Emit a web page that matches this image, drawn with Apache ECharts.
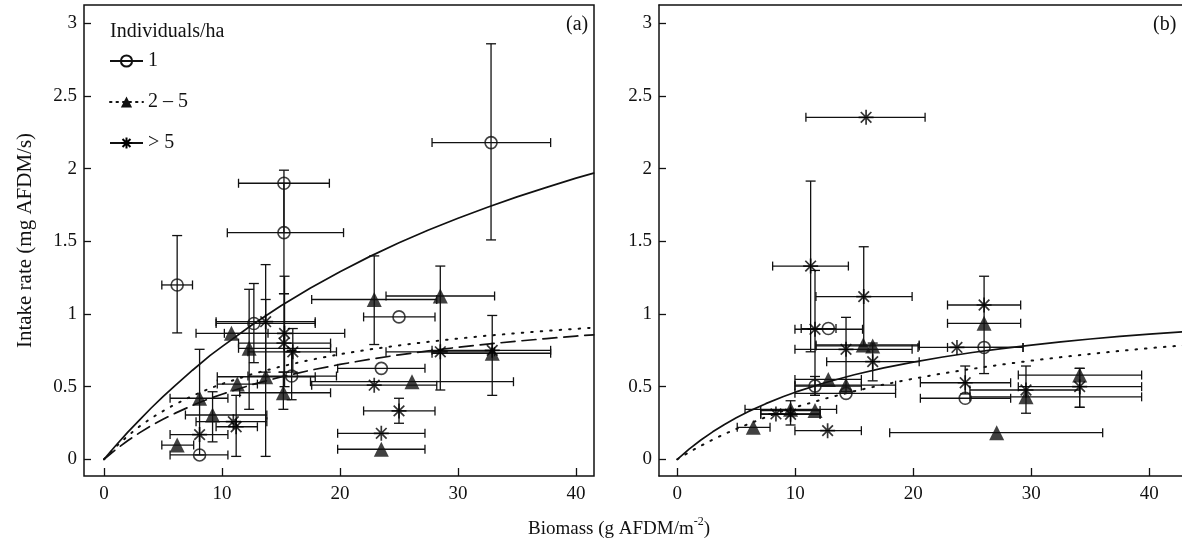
<!DOCTYPE html>
<html><head><meta charset="utf-8">
<script src="https://cdn.jsdelivr.net/npm/echarts@6/dist/echarts.min.js"></script>
<style>html,body{margin:0;padding:0;background:#fff}#c{width:1182px;height:543px}</style>
</head><body><div id="c"></div>
<script>
// ---- data: [x, y, xLow, xHigh, yLow, yHigh] ----
const circlesA = [
  [6.2, 1.20, 4.9, 7.5, 0.87, 1.54],
  [8.1, 0.03, 5.6, 10.5, null, null],
  [15.25, 1.90, 11.4, 19.1, 1.56, 1.99],
  [15.25, 1.56, 10.45, 20.3, 1.14, 1.90],
  [12.7, 0.935, 9.5, 17.9, 0.665, 1.21],
  [15.9, 0.573, 12.2, 19.7, 0.41, 0.75],
  [25.0, 0.98, 22.0, 28.05, null, null],
  [23.5, 0.626, 19.8, 27.2, null, null],
  [32.8, 2.18, 27.8, 37.85, 1.51, 2.86]
];
const trianglesA = [
  [6.2, 0.098, 4.9, 7.6, null, null],
  [8.1, 0.42, 5.6, 10.5, 0.03, 0.757],
  [9.2, 0.305, 6.9, 13.8, 0.12, 0.465],
  [11.3, 0.518, 9.6, 13.0, null, null],
  [10.8, 0.867, 7.8, 13.9, null, null],
  [12.3, 0.764, 11.4, 19.2, 0.344, 1.17],
  [13.7, 0.568, 9.6, 17.9, 0.02, 1.10],
  [15.2, 0.458, 11.5, 19.2, 0.344, 0.60],
  [22.9, 1.10, 17.6, 28.2, 0.79, 1.40],
  [28.5, 1.124, 23.9, 33.1, 0.477, 1.33],
  [26.1, 0.534, 17.5, 34.7, null, null],
  [23.5, 0.069, 19.8, 27.2, null, null],
  [32.9, 0.73, 27.8, 37.85, 0.44, 0.99]
];
const asterisksA = [
  [8.1, 0.17, 5.6, 10.5, null, null],
  [10.96, 0.259, 7.8, 13.8, null, null],
  [11.2, 0.224, 9.5, 13.0, 0.02, 0.44],
  [13.7, 0.947, 9.5, 17.9, 0.6, 1.34],
  [15.3, 0.867, 10.2, 20.4, 0.5, 1.26],
  [15.25, 0.80, 11.4, 19.2, 0.6, 1.14],
  [16.0, 0.74, 12.2, 19.7, 0.6, 0.9],
  [22.9, 0.51, 17.6, 28.2, null, null],
  [25.0, 0.333, 22.0, 28.05, 0.248, 0.42],
  [23.5, 0.179, 19.8, 27.2, null, null],
  [28.5, 0.74, 23.9, 33.1, null, null],
  [32.9, 0.75, 27.8, 37.85, null, null]
];
const circlesB = [
  [12.8, 0.90, 10.5, 13.45, null, null],
  [11.67, 0.504, 9.97, 15.6, 0.44, 0.57],
  [14.3, 0.454, 9.97, 18.5, null, null],
  [26.0, 0.77, 22.9, 29.3, 0.59, 1.26],
  [24.4, 0.42, 20.6, 28.25, null, null]
];
const trianglesB = [
  [15.76, 0.787, 11.75, 20.5, null, null],
  [16.56, 0.78, 11.75, 20.5, null, null],
  [12.8, 0.55, 9.97, 15.6, null, null],
  [14.3, 0.51, 9.97, 18.5, null, null],
  [9.6, 0.344, 5.74, 13.5, 0.236, 0.403],
  [11.67, 0.335, 7.07, 12.1, null, null],
  [6.44, 0.22, 5.08, 7.86, null, null],
  [27.07, 0.183, 18.0, 36.05, null, null],
  [26.0, 0.936, 22.9, 29.1, null, null],
  [29.55, 0.43, 24.8, 39.35, 0.317, 0.642],
  [34.1, 0.58, 28.9, 39.35, 0.358, 0.626]
];
const asterisksB = [
  [16.0, 2.354, 10.9, 21.0, null, null],
  [11.3, 1.33, 8.08, 14.5, 0.74, 1.915],
  [15.8, 1.12, 11.75, 19.9, 0.78, 1.463],
  [11.67, 0.895, 9.97, 15.7, 0.44, 1.30],
  [14.3, 0.757, 9.97, 19.9, 0.465, 0.977],
  [16.56, 0.672, 12.66, 20.5, 0.54, 0.80],
  [23.7, 0.77, 20.4, 29.3, null, null],
  [26.0, 1.062, 22.9, 29.1, null, null],
  [24.4, 0.527, 20.6, 28.25, 0.45, 0.642],
  [29.55, 0.477, 24.8, 34.1, null, null],
  [34.1, 0.50, 28.9, 39.35, 0.358, 0.626],
  [8.36, 0.312, 7.07, 12.1, null, null],
  [9.6, 0.31, 7.07, 12.1, null, null],
  [12.74, 0.197, 9.97, 15.6, null, null]
];
// fitted curves
const curveXA = [0, 1, 2, 3, 4, 5, 6, 7.5, 9, 10, 12.5, 15, 17.5, 20, 22.5, 25, 27.5, 30, 32.5, 35, 37.5, 40, 41.5];
const solidA  = [0, 0.095, 0.185, 0.270, 0.353, 0.431, 0.506, 0.613, 0.715, 0.776, 0.923, 1.057, 1.179, 1.291, 1.395, 1.49, 1.578, 1.659, 1.735, 1.806, 1.872, 1.935, 1.97];
const dottedA = [0, 0.086, 0.160, 0.226, 0.283, 0.332, 0.377, 0.437, 0.489, 0.519, 0.585, 0.639, 0.684, 0.723, 0.756, 0.784, 0.809, 0.831, 0.851, 0.868, 0.884, 0.898, 0.906];
const dashedA = [0, 0.067, 0.128, 0.182, 0.232, 0.275, 0.316, 0.371, 0.420, 0.448, 0.513, 0.567, 0.613, 0.653, 0.688, 0.719, 0.746, 0.771, 0.793, 0.813, 0.831, 0.848, 0.857];
const curveXB = [0, 1, 2, 3, 4, 5, 6, 7.5, 9, 10, 12.5, 15, 17.5, 20, 22.5, 25, 27.5, 30, 32.5, 35, 37.5, 40, 42.9];
const solidB  = [0, 0.070, 0.133, 0.189, 0.240, 0.286, 0.328, 0.383, 0.432, 0.462, 0.527, 0.582, 0.629, 0.669, 0.704, 0.735, 0.762, 0.786, 0.808, 0.828, 0.846, 0.862, 0.878];
const dottedB = [0, 0.049, 0.093, 0.135, 0.174, 0.209, 0.242, 0.290, 0.333, 0.358, 0.417, 0.469, 0.514, 0.555, 0.591, 0.623, 0.652, 0.679, 0.703, 0.725, 0.746, 0.765, 0.784];
const xTicks = [0, 10, 20, 30, 40];
const yTicks = [0, 0.5, 1, 1.5, 2, 2.5, 3];
const legendNames = ['1', '2 \u2013 5', '> 5'];

const FONT = 'Liberation Serif';
const INK = '#111';
const ASTER = 'path://M0,-10L0,10M-10,0L10,0M-7.07,-7.07L7.07,7.07M-7.07,7.07L7.07,-7.07';

const chart = echarts.init(document.getElementById('c'), null, {renderer: 'canvas'});

function zip(xs, ys) { return xs.map((x, i) => [x, ys[i]]); }
function pts(arr) { return arr.map(d => [d[0], d[1]]); }

function errSeries(idx, rows) {
  return {
    type: 'custom', xAxisIndex: idx, yAxisIndex: idx, z: 2, clip: true,
    silent: true,
    data: rows.map(r => r.map(v => v === null ? '-' : v)),
    encode: {x: 0, y: 1},
    renderItem: function (params, api) {
      const x = api.value(0), y = api.value(1);
      const xl = api.value(2), xh = api.value(3), yl = api.value(4), yh = api.value(5);
      const style = {stroke: INK, lineWidth: 1.3};
      const ch = [];
      const line = (a, b) => ch.push({type: 'line', shape: {x1: a[0], y1: a[1], x2: b[0], y2: b[1]}, style: style});
      if (!isNaN(xl) && !isNaN(xh)) {
        const p1 = api.coord([xl, y]), p2 = api.coord([xh, y]);
        line(p1, p2);
        line([p1[0], p1[1] - 4.5], [p1[0], p1[1] + 4.5]);
        line([p2[0], p2[1] - 4.5], [p2[0], p2[1] + 4.5]);
      }
      if (!isNaN(yl) && !isNaN(yh)) {
        const q1 = api.coord([x, yl]), q2 = api.coord([x, yh]);
        line(q1, q2);
        line([q1[0] - 5, q1[1]], [q1[0] + 5, q1[1]]);
        line([q2[0] - 5, q2[1]], [q2[0] + 5, q2[1]]);
      }
      return {type: 'group', children: ch};
    }
  };
}

const circleStyle = {color: 'rgba(0,0,0,0)', borderColor: INK, borderWidth: 1.6};
const triStyle = {color: INK};
const asterStyle = {color: 'rgba(0,0,0,0)', borderColor: '#000', borderWidth: 1.7};

function markers(idx, name, arr, symbol, size, style) {
  return {type: 'scatter', name: name, xAxisIndex: idx, yAxisIndex: idx, z: 4,
    symbol: symbol, symbolSize: size, itemStyle: style, data: pts(arr), silent: true};
}
function curve(idx, name, xs, ys, lt, w) {
  return {type: 'line', name: name, xAxisIndex: idx, yAxisIndex: idx, z: 3, data: zip(xs, ys),
    showSymbol: false, symbol: 'none', smooth: false, silent: true,
    lineStyle: {color: INK, width: w, type: lt, cap: 'round', join: 'round'}};
}

const lineStyleAxis = {color: INK, width: 1.5};
function xAxis(gi, min, max, showLine) {
  return {type: 'value', gridIndex: gi, min: min, max: max, position: 'bottom',
    axisLine: {show: showLine, onZero: false, lineStyle: lineStyleAxis}, splitLine: {show: false},
    axisTick: {show: true, inside: true, length: 8, customValues: xTicks, lineStyle: {color: INK, width: 1.3}},
    axisLabel: {customValues: xTicks, color: INK, fontFamily: FONT, fontSize: 19, margin: 9}};
}
function yAxis(gi, name, showLine) {
  return {type: 'value', gridIndex: gi, min: -0.115, max: 3.127, position: 'left',
    name: name, nameLocation: 'middle', nameGap: 48,
    nameTextStyle: {color: INK, fontFamily: FONT, fontSize: 21},
    axisLine: {show: showLine, onZero: false, lineStyle: lineStyleAxis}, splitLine: {show: false},
    axisTick: {show: true, inside: true, length: 7, customValues: yTicks, lineStyle: {color: INK, width: 1.3}},
    axisLabel: {customValues: yTicks, color: INK, fontFamily: FONT, fontSize: 19, margin: 7}};
}

const BW = 523; // panel (b) width: runs to the right edge of the picture
const option = {
  backgroundColor: '#fff',
  animation: false,
  grid: [
    {left: 84, top: 5, width: 510, height: 471, show: true, borderColor: INK, borderWidth: 1.5, backgroundColor: 'transparent'},
    {left: 659, top: 5, width: BW, height: 471, show: false}
  ],
  xAxis: [
    xAxis(0, -1.695, 41.525, false),
    xAxis(1, -1.55, -1.55 + BW / 11.8, true),
    {type: 'value', gridIndex: 1, position: 'top', min: 0, max: 1, axisLine: {show: true, onZero: false, lineStyle: lineStyleAxis},
      axisTick: {show: false}, axisLabel: {show: false}, splitLine: {show: false}}
  ],
  yAxis: [yAxis(0, 'Intake rate (mg AFDM/s)', false), yAxis(1, '', true)],
  title: [
    {text: 'Individuals/ha', left: 105, top: 17, textStyle: {fontFamily: FONT, fontSize: 20, fontWeight: 'normal', color: INK}},
    {text: '{a|Biomass (g AFDM/m}{s|-2}{a|)}', left: 523, top: 508,
      textStyle: {fontWeight: 'normal', rich: {
        a: {fontFamily: FONT, fontSize: 19, fontWeight: 'normal', color: INK, lineHeight: 26, verticalAlign: 'bottom'},
        s: {fontFamily: FONT, fontSize: 12, fontWeight: 'normal', color: INK, lineHeight: 26, verticalAlign: 'top', padding: [3, 0, 0, 0]}
      }}},
    {text: '(a)', left: 561, top: 10, textStyle: {fontFamily: FONT, fontSize: 20, fontWeight: 'normal', color: INK}},
    {text: '(b)', left: 1148, top: 10, textStyle: {fontFamily: FONT, fontSize: 20, fontWeight: 'normal', color: INK}}
  ],
  legend: {
    data: legendNames, orient: 'vertical', left: 104, top: 46, itemWidth: 33, itemHeight: 14, itemGap: 21,
    selectedMode: false, textStyle: {fontFamily: FONT, fontSize: 20, color: INK}
  },
  series: [
    errSeries(0, circlesA.concat(trianglesA, asterisksA)),
    errSeries(1, circlesB.concat(trianglesB, asterisksB)),
    curve(0, 'sa', curveXA, solidA, 'solid', 1.7),
    curve(0, 'da', curveXA, dottedA, [1.5, 8], 2),
    curve(0, 'ea', curveXA, dashedA, [14, 7], 1.7),
    curve(1, 'sb', curveXB, solidB, 'solid', 1.7),
    curve(1, 'db', curveXB, dottedB, [1.5, 8], 2),
    markers(0, 'ca', circlesA, 'circle', 12, circleStyle),
    markers(0, 'ta', trianglesA, 'triangle', 15, triStyle),
    markers(0, 'aa', asterisksA, ASTER, 15, asterStyle),
    markers(1, 'cb', circlesB, 'circle', 12, circleStyle),
    markers(1, 'tb', trianglesB, 'triangle', 15, triStyle),
    markers(1, 'ab', asterisksB, ASTER, 15, asterStyle),
    // legend entries
    {type: 'line', name: legendNames[0], xAxisIndex: 0, yAxisIndex: 0, data: [], symbol: 'circle', symbolSize: 12,
      itemStyle: circleStyle, lineStyle: {color: INK, width: 1.3}},
    {type: 'line', name: legendNames[1], xAxisIndex: 0, yAxisIndex: 0, data: [], symbol: 'triangle', symbolSize: 15,
      itemStyle: triStyle, lineStyle: {color: INK, width: 1.8, type: [1.5, 5], cap: 'round'}},
    {type: 'line', name: legendNames[2], xAxisIndex: 0, yAxisIndex: 0, data: [], symbol: ASTER, symbolSize: 15,
      itemStyle: asterStyle, lineStyle: {color: INK, width: 1.3}}
  ]
};
chart.setOption(option);
</script></body></html>
